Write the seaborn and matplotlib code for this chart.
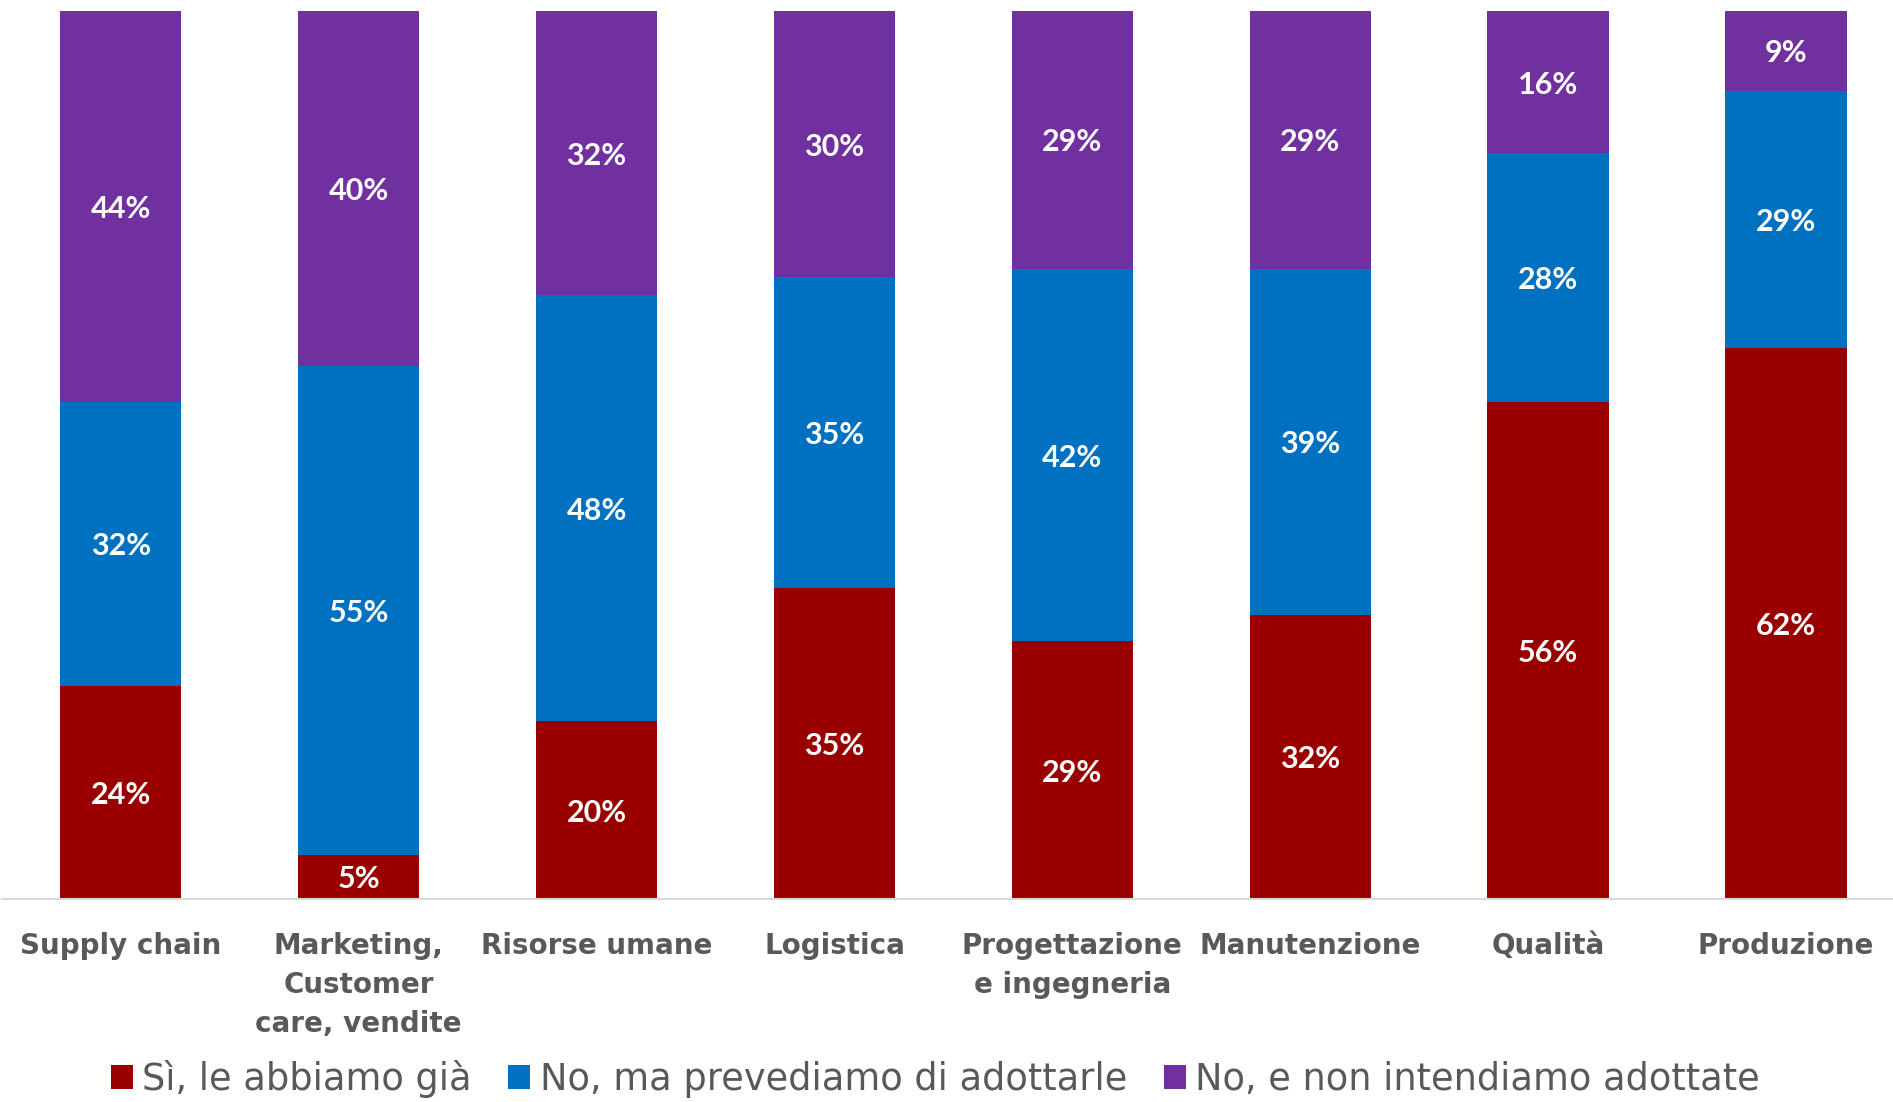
import matplotlib
matplotlib.use("Agg")
import matplotlib.pyplot as plt
import seaborn as sns
import pandas as pd
import numpy as np
from matplotlib.patches import Patch

categories = ["Supply chain", "Marketing,\nCustomer\ncare, vendite", "Risorse umane", "Logistica",
              "Progettazione\ne ingegneria", "Manutenzione", "Qualità", "Produzione"]
si_gia = [24, 5, 20, 35, 29, 32, 56, 62]
no_prevediamo = [32, 55, 48, 35, 42, 39, 28, 29]
no_non_intendiamo = [44, 40, 32, 30, 29, 29, 16, 9]
series_names = ["Sì, le abbiamo già", "No, ma prevediamo di adottarle", "No, e non intendiamo adottate"]
colors = ["#990000", "#0070C0", "#7030A0"]

sns.set_theme(style="white")
plt.rcParams['font.family'] = ['Lato', 'DejaVu Sans']

df = pd.DataFrame({"cat": categories, "s1": si_gia, "s2": no_prevediamo, "s3": no_non_intendiamo})
df["c1"] = df["s1"]
df["c2"] = df["s1"] + df["s2"]
df["c3"] = df["s1"] + df["s2"] + df["s3"]

fig = plt.figure(figsize=(18.93, 11.02), dpi=100)
ax = fig.add_axes([0.001, 0.1842, 0.999, 0.8058])

for col, c in zip(["c3", "c2", "c1"], [colors[2], colors[1], colors[0]]):
    sns.barplot(data=df, x="cat", y=col, color=c, width=0.51, saturation=1, ax=ax, linewidth=0)

ax.set_xlim(-0.5, 7.45)
ax.set_ylim(0, 100)

for i in range(len(categories)):
    bottoms = [0, df["c1"][i], df["c2"][i]]
    vals = [df["s1"][i], df["s2"][i], df["s3"][i]]
    for b, v in zip(bottoms, vals):
        ax.text(i, b + v / 2, f"{v}%", ha="center", va="center_baseline", color="white",
                fontsize=22, fontweight="bold")

ax.set_xlabel("")
ax.set_ylabel("")
ax.set_yticks([])
ax.tick_params(axis="x", length=0, pad=24)
for lab in ax.get_xticklabels():
    lab.set_fontsize(20)
    lab.set_fontweight("bold")
    lab.set_family("DejaVu Sans")
    lab.set_color("#595959")
    lab.set_linespacing(1.5)
    lab.set_verticalalignment("top")
for s in ["top", "left", "right"]:
    ax.spines[s].set_visible(False)
ax.spines["bottom"].set_color("#D9D9D9")
ax.spines["bottom"].set_linewidth(1.5)

handles = [Patch(facecolor=c, edgecolor="none", label=n) for c, n in zip(colors, series_names)]
fig.legend(handles=handles, loc="center", bbox_to_anchor=(0.494, 0.021), ncol=3, frameon=False,
           prop={"family": "DejaVu Sans", "size": 26.5},
           handlelength=0.6, handleheight=0.6, handletextpad=0.25,
           columnspacing=1.0, labelcolor="#595959", borderpad=0.1)

fig.savefig("out.png", dpi=100)
